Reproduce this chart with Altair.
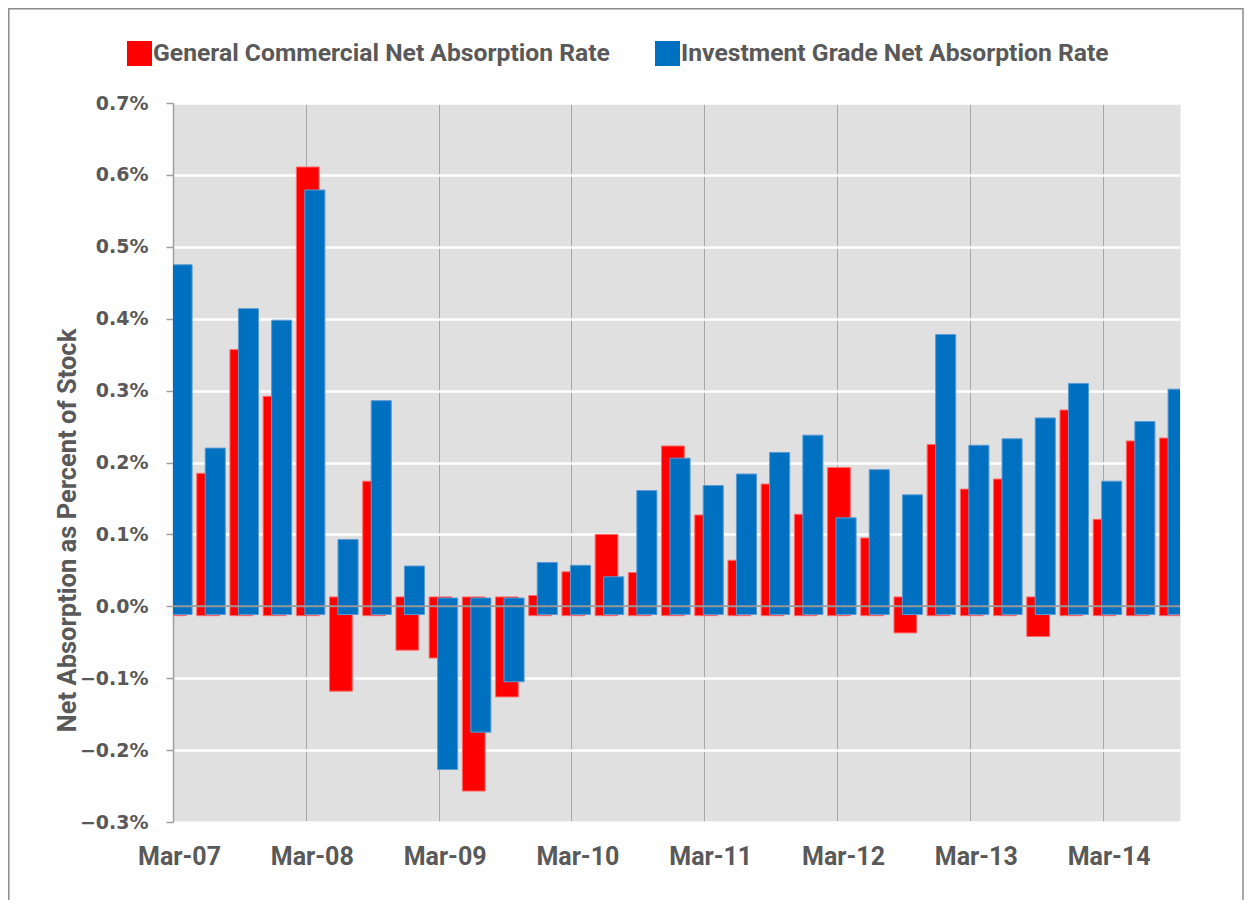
import altair as alt
import pandas as pd

# ---- data ----
quarters = [
    "Mar-07", "Jun-07", "Sep-07", "Dec-07",
    "Mar-08", "Jun-08", "Sep-08", "Dec-08",
    "Mar-09", "Jun-09", "Sep-09", "Dec-09",
    "Mar-10", "Jun-10", "Sep-10", "Dec-10",
    "Mar-11", "Jun-11", "Sep-11", "Dec-11",
    "Mar-12", "Jun-12", "Sep-12", "Dec-12",
    "Mar-13", "Jun-13", "Sep-13", "Dec-13",
    "Mar-14", "Jun-14", "Sep-14",
]
general = [
    0.300, 0.185, 0.357, 0.292,
    0.611, -0.118, 0.174, -0.061,
    -0.072, -0.257, -0.126, 0.015,
    0.048, 0.100, 0.047, 0.223,
    0.127, 0.064, 0.170, 0.128,
    0.193, 0.095, -0.037, 0.225,
    0.163, 0.177, -0.042, 0.273,
    0.121, 0.230, 0.234,
]
investment = [
    0.475, 0.220, 0.414, 0.398,
    0.579, 0.093, 0.286, 0.056,
    -0.227, -0.175, -0.105, 0.061,
    0.057, 0.041, 0.161, 0.206,
    0.168, 0.184, 0.214, 0.238,
    0.123, 0.190, 0.155, 0.378,
    0.224, 0.233, 0.262, 0.310,
    0.174, 0.257, 0.302,
]
series_names = [
    "General Commercial Net Absorption Rate",
    "Investment Grade Net Absorption Rate",
]
year_ticks = [0, 4, 8, 12, 16, 20, 24, 28]
year_labels = ["Mar-07", "Mar-08", "Mar-09", "Mar-10",
               "Mar-11", "Mar-12", "Mar-13", "Mar-14"]
y_ticks = [-0.3, -0.2, -0.1, 0.0, 0.1, 0.2, 0.3, 0.4, 0.5, 0.6, 0.7]

rows = []
for name, vals in zip(series_names, [general, investment]):
    for i, (q, v) in enumerate(zip(quarters, vals)):
        rows.append({"idx": i, "quarter": q, "series": name, "value": v})
df = pd.DataFrame(rows)

TEXT = "#595959"
FONT = "Roboto"

is_red = "datum.series === '" + series_names[0] + "'"
label_arr = "[" + ",".join("'" + s + "'" for s in year_labels) + "]"
x_label_expr = label_arr + "[round(datum.value / 4)]"

x_scale = alt.Scale(domain=[0, 30.33], nice=False, zero=False)
y_scale = alt.Scale(domain=[-0.3, 0.7], nice=False, zero=False)

bars = alt.Chart(df).transform_calculate(
    x1="datum.idx + (" + is_red + " ? -0.285 : -0.03)",
    x2="datum.idx + (" + is_red + " ? 0.40 : 0.575)",
    base="(datum.value >= 0 ? -1 : 1) * (" + is_red + " ? 0.013 : 0.0115)",
).mark_bar(clip=True, strokeWidth=1).encode(
    x=alt.X(
        "x1:Q", scale=x_scale,
        axis=alt.Axis(
            values=year_ticks, labelExpr=x_label_expr, title=None,
            grid=True, gridColor="#A6A6A6", gridWidth=1,
            domain=False, ticks=False, tickSize=0,
            labelPadding=22.5, labelOffset=6,
            labelFont=FONT, labelFontSize=25, labelFontWeight="bold",
            labelColor=TEXT, labelFlush=False, labelOverlap=False,
        ),
    ),
    x2="x2:Q",
    y=alt.Y(
        "value:Q", scale=y_scale,
        axis=alt.Axis(
            values=y_ticks,
            labelExpr="format(datum.value, '.1f') + '%'",
            grid=True, gridColor="#FFFFFF", gridWidth=2.5,
            domain=True, domainColor="#A0A0A0", domainWidth=1.5,
            ticks=True, tickColor="#A0A0A0", tickWidth=1.5, tickSize=7,
            labelPadding=18, labelFont="DejaVu Sans", labelFontSize=19,
            labelFontWeight="bold", labelColor=TEXT,
            labelOverlap=False,
            title="Net Absorption as Percent of Stock",
            titleFont=FONT, titleFontSize=25.5, titleFontWeight="bold",
            titleColor=TEXT, titleAngle=270, titleAlign="center",
            titleBaseline="middle", titleX=-106, titleY=427,
        ),
    ),
    y2="base:Q",
    color=alt.Color(
        "series:N",
        scale=alt.Scale(domain=series_names, range=["#FF0000", "#0070C0"]),
        legend=alt.Legend(
            orient="none", legendX=-46, legendY=-62, direction="horizontal",
            title=None, symbolType="square", symbolSize=625,
            symbolStrokeWidth=0, symbolOpacity=1,
            labelFont=FONT, labelFontSize=24.7, labelFontWeight="bold",
            labelColor=TEXT, labelOffset=1, labelLimit=700,
            columnPadding=45, padding=0,
        ),
    ),
    stroke=alt.Stroke(
        "series:N",
        scale=alt.Scale(domain=series_names, range=["#FF6A6A", "#5B9BD5"]),
        legend=None,
    ),
)

zero_rule = alt.Chart(pd.DataFrame({"zero": [0.0]})).mark_rule(
    color="#999999", strokeWidth=2
).encode(y=alt.Y("zero:Q", scale=y_scale))

border = alt.Chart(pd.DataFrame({"a": [0]})).mark_rect(
    fillOpacity=0, stroke="#8C8C8C", strokeWidth=1.5, clip=False
).encode(
    x=alt.value(-164.2), x2=alt.value(1070),
    y=alt.value(-94.2), y2=alt.value(830),
)

chart = alt.layer(border, bars, zero_rule).properties(
    width=1007, height=719,
    autosize=alt.AutoSizeParams(type="none"),
    padding={"left": 165, "top": 95, "right": 64, "bottom": 78},
).configure_view(
    fill="#E0E0E0", stroke="transparent"
)

chart.save("out.html", embed_options={"renderer": "svg", "actions": False})
